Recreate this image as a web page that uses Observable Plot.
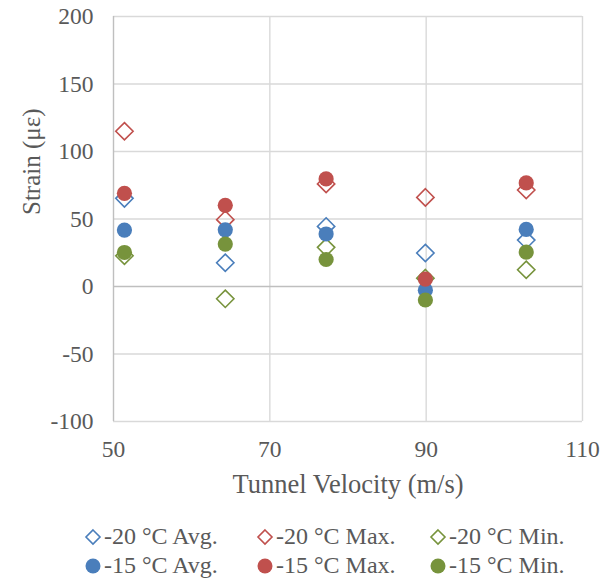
<!DOCTYPE html>
<html>
<head>
<meta charset="utf-8">
<script src="https://cdn.jsdelivr.net/npm/d3@7"></script>
<script src="https://cdn.jsdelivr.net/npm/@observablehq/plot@0.6"></script>
<style>
  html, body { margin: 0; padding: 0; background: #fff; }
  #wrap { width: 615px; height: 579px; position: relative; font-family: 'Liberation Serif', serif; }
  #legend { position: absolute; left: 0; top: 520px; width: 615px; height: 59px; font-size: 24px; color: #595959; font-family: 'Liberation Serif', serif; }
  .item { position: absolute; display: flex; align-items: center; white-space: nowrap; font-family: 'Liberation Serif', serif; }
  .item svg { margin-right: 2px; }
</style>
</head>
<body>
<div id="wrap">
  <div id="chart"></div>
  <div id="legend"></div>
</div>
<script>
// ---- data ----
const velocity = [51.4, 64.3, 77.2, 89.9, 102.8];
const avg20 = [65.3, 17.6, 44.5, 24.8, 34.4];
const max20 = [115, 49.5, 76, 66, 71.5];
const min20 = [22.8, -9.1, 29, 6.2, 12.4];
const avg15 = [41.8, 42, 38.9, -2.7, 42.3];
const max15 = [69, 60.1, 79.7, 5.5, 76.7];
const min15 = [25.2, 31.4, 20, -10, 25.5];
const seriesNames = ["-20 °C Avg.", "-20 °C Max.", "-20 °C Min.", "-15 °C Avg.", "-15 °C Max.", "-15 °C Min."];
const xTicks = [50, 70, 90, 110];
const yTicks = [-100, -50, 0, 50, 100, 150, 200];
const xLabel = "Tunnel Velocity (m/s)";
const yLabel = "Strain (με)";

const blue = "#4A7EBB", red = "#C0504D", green = "#77933C";
const seriesValues = [avg20, max20, min20, avg15, max15, min15];
const seriesColors = [blue, red, green, blue, red, green];
const seriesHollow = [true, true, true, false, false, false];

const textColor = "#595959";
const font = "'Liberation Serif', serif";

const marks = [
  Plot.gridX(xTicks.filter(d => d !== 50), {stroke: "#d9d9d9", strokeOpacity: 1, strokeWidth: 1.4}),
  Plot.gridY(yTicks.filter(d => d !== 0), {stroke: "#d9d9d9", strokeOpacity: 1, strokeWidth: 1.4}),
  Plot.ruleX([50], {stroke: "#bfbfbf", strokeWidth: 1.4}),
  Plot.ruleY([0], {stroke: "#bfbfbf", strokeWidth: 1.4}),
  Plot.axisX({ticks: xTicks, tickSize: 0, tickPadding: 19, label: null, fontSize: 23.5, fontFamily: font, fill: textColor, tickFormat: d => String(d)}),
  Plot.axisY({ticks: yTicks, tickSize: 0, tickPadding: 20, label: null, fontSize: 23.5, fontFamily: font, fill: textColor, tickFormat: d => String(d)}),
  Plot.text([xLabel], {frameAnchor: "bottom", dy: 71, fontSize: 26.5, fontFamily: font, fill: textColor}),
  Plot.text([yLabel], {frameAnchor: "left", dx: -82, dy: -4, rotate: -90, fontSize: 25, fontFamily: font, fill: textColor})
];

seriesNames.forEach((name, i) => {
  const data = velocity.map((v, j) => ({x: v, y: seriesValues[i][j]}));
  if (seriesHollow[i]) {
    marks.push(Plot.dot(data, {x: "x", y: "y", symbol: "diamond2", r: 7.8, stroke: seriesColors[i], strokeWidth: 1.6, fill: "none"}));
  } else {
    marks.push(Plot.dot(data, {x: "x", y: "y", symbol: "circle", r: 7.6, fill: seriesColors[i], stroke: "none"}));
  }
});

const chart = Plot.plot({
  width: 615,
  height: 520,
  marginLeft: 113,
  marginRight: 33,
  marginTop: 16,
  marginBottom: 99,
  style: {fontFamily: font, background: "#fff", overflow: "visible"},
  x: {domain: [50, 110]},
  y: {domain: [-100, 200]},
  marks
});
document.getElementById("chart").appendChild(chart);

// ---- legend ----
const legend = document.getElementById("legend");
const colX = [84, 256, 429];
const rowY = [17, 46];
seriesNames.forEach((name, i) => {
  const el = document.createElement("div");
  el.className = "item";
  el.style.left = colX[i % 3] + "px";
  el.style.top = (rowY[Math.floor(i / 3)] - 14) + "px";
  const sym = seriesHollow[i]
    ? `<svg width="18" height="18"><path d="M9,2L16,9L9,16L2,9Z" fill="none" stroke="${seriesColors[i]}" stroke-width="1.6"/></svg>`
    : `<svg width="18" height="18"><circle cx="9" cy="9" r="7.5" fill="${seriesColors[i]}"/></svg>`;
  el.innerHTML = sym + `<span>${name}</span>`;
  legend.appendChild(el);
});
</script>
</body>
</html>
